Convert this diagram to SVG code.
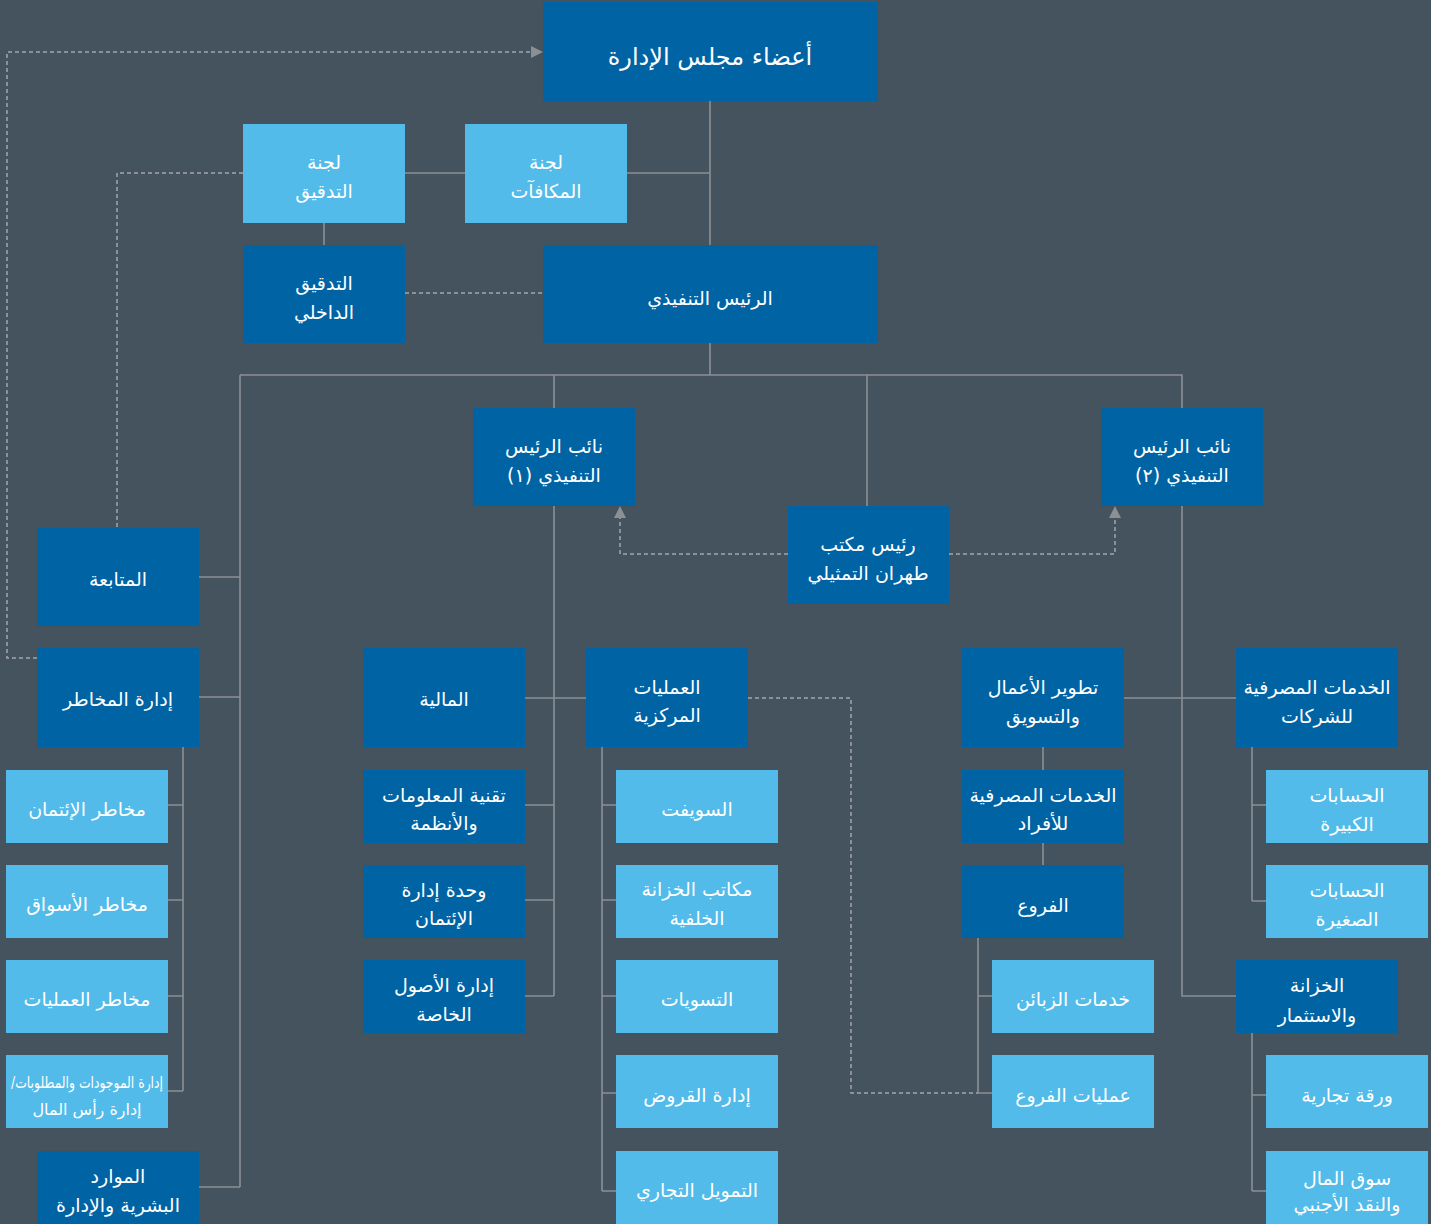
<svg xmlns="http://www.w3.org/2000/svg" width="1431" height="1224" viewBox="0 0 1431 1224">
<style>
.bg{fill:#44535e}
.d{fill:#0064a4}
.l{fill:#52bbea}
.t{fill:#ffffff;font-family:"DejaVu Sans",sans-serif;font-size:19px;text-anchor:middle;direction:rtl}
.big{font-size:24px}
.sm{font-size:16px}
.c{fill:none;stroke:#8b9095;stroke-width:1.6}
.ds{fill:none;stroke:#a3a7ab;stroke-width:1.5;stroke-dasharray:4 3}
</style>
<defs>
<marker id="ah" markerUnits="userSpaceOnUse" markerWidth="14" markerHeight="12" refX="0" refY="6" orient="auto">
<path d="M0,0 L12,6 L0,12 z" fill="#8b9095"/>
</marker>
</defs>
<rect class="bg" x="0" y="0" width="1431" height="1224"/>
<g id="connectors">
<path class="c" d="M710 101 V245"/>
<path class="c" d="M405 173 H465 M627 173 H710"/>
<path class="c" d="M324 223 V245"/>
<path class="c" d="M710 343 V375 M240 375 H1182 V408 M554 375 V408 M867 375 V506 M240 375 V1187"/>
<path class="c" d="M199 577 H240 M199 697 H240 M199 1187 H240"/>
<path class="c" d="M183 747 V1091 M168 805 H183 M168 900 H183 M168 996 H183 M168 1091 H183"/>
<path class="c" d="M554 506 V996 M525 698 H586 M525 805 H554 M525 900 H554 M525 996 H554"/>
<path class="c" d="M602 747 V1191 M602 805 H616 M602 900 H616 M602 996 H616 M602 1093 H616 M602 1191 H616"/>
<path class="c" d="M1182 506 V996 H1236 M1124 698 H1236"/>
<path class="c" d="M1043 747 V770 M1043 843 V865"/>
<path class="c" d="M978 938 V1093 M978 996 H992 M978 1093 H992"/>
<path class="c" d="M1252 747 V901 M1252 805 H1266 M1252 901 H1266"/>
<path class="c" d="M1252 1033 V1191 M1252 1095 H1266 M1252 1191 H1266"/>
<path class="ds" d="M37 658 H7 V52 H531" marker-end="url(#ah)"/>
<path class="ds" d="M243 173 H117 V528"/>
<path class="ds" d="M405 293 H543"/>
<path class="ds" d="M788 554 H620 V518" marker-end="url(#ah)"/>
<path class="ds" d="M949 554 H1115 V518" marker-end="url(#ah)"/>
<path class="ds" d="M748 698 H851 V1093 H978"/>
</g>
<g id="board"><rect class="d" x="543" y="2" width="335" height="99"/><text class="t big" x="710" y="65">أعضاء مجلس الإدارة</text></g>
<g id="audit-committee"><rect class="l" x="243" y="124" width="162" height="99"/><text class="t" x="324" y="169">لجنة</text><text class="t" x="324" y="198">التدقيق</text></g>
<g id="remuneration-committee"><rect class="l" x="465" y="124" width="162" height="99"/><text class="t" x="546" y="169">لجنة</text><text class="t" x="546" y="198">المكافآت</text></g>
<g id="internal-audit"><rect class="d" x="243" y="245" width="162" height="98"/><text class="t" x="324" y="290">التدقيق</text><text class="t" x="324" y="319">الداخلي</text></g>
<g id="ceo"><rect class="d" x="543" y="245" width="335" height="98"/><text class="t" x="710" y="305">الرئيس التنفيذي</text></g>
<g id="vp1"><rect class="d" x="473" y="408" width="162" height="98"/><text class="t" x="554" y="453">نائب الرئيس</text><text class="t" x="554" y="482">التنفيذي (١)</text></g>
<g id="vp2"><rect class="d" x="1101" y="408" width="162" height="98"/><text class="t" x="1182" y="453">نائب الرئيس</text><text class="t" x="1182" y="482">التنفيذي (٢)</text></g>
<g id="tehran"><rect class="d" x="788" y="506" width="161" height="98"/><text class="t" x="868" y="551">رئيس مكتب</text><text class="t" x="868" y="580">طهران التمثيلي</text></g>
<g id="followup"><rect class="d" x="37" y="528" width="162" height="98"/><text class="t" x="118" y="586">المتابعة</text></g>
<g id="risk-management"><rect class="d" x="37" y="648" width="162" height="99"/><text class="t" x="118" y="706">إدارة المخاطر</text></g>
<g id="credit-risk"><rect class="l" x="6" y="770" width="162" height="73"/><text class="t" x="87" y="816">مخاطر الإئتمان</text></g>
<g id="market-risk"><rect class="l" x="6" y="865" width="162" height="73"/><text class="t" x="87" y="911">مخاطر الأسواق</text></g>
<g id="operational-risk"><rect class="l" x="6" y="960" width="162" height="73"/><text class="t" x="87" y="1006">مخاطر العمليات</text></g>
<g id="alm"><rect class="l" x="6" y="1055" width="162" height="73"/><text class="t sm" x="87" y="1088" textLength="152" lengthAdjust="spacingAndGlyphs">إدارة الموجودات والمطلوبات/</text><text class="t sm" x="87" y="1115">إدارة رأس المال</text></g>
<g id="hr"><rect class="d" x="37" y="1151" width="162" height="73"/><text class="t" x="118" y="1183">الموارد</text><text class="t" x="118" y="1212">البشرية والإدارة</text></g>
<g id="finance"><rect class="d" x="363" y="648" width="162" height="99"/><text class="t" x="444" y="706">المالية</text></g>
<g id="it"><rect class="d" x="363" y="770" width="162" height="73"/><text class="t" x="444" y="802">تقنية المعلومات</text><text class="t" x="444" y="830">والأنظمة</text></g>
<g id="credit-unit"><rect class="d" x="363" y="865" width="162" height="73"/><text class="t" x="444" y="897">وحدة إدارة</text><text class="t" x="444" y="925">الإئتمان</text></g>
<g id="private-assets"><rect class="d" x="363" y="960" width="162" height="73"/><text class="t" x="444" y="992">إدارة الأصول</text><text class="t" x="444" y="1021">الخاصة</text></g>
<g id="central-operations"><rect class="d" x="586" y="648" width="162" height="99"/><text class="t" x="667" y="694">العمليات</text><text class="t" x="667" y="722">المركزية</text></g>
<g id="swift"><rect class="l" x="616" y="770" width="162" height="73"/><text class="t" x="697" y="816">السويفت</text></g>
<g id="treasury-back-office"><rect class="l" x="616" y="865" width="162" height="73"/><text class="t" x="697" y="896">مكاتب الخزانة</text><text class="t" x="697" y="925">الخلفية</text></g>
<g id="settlements"><rect class="l" x="616" y="960" width="162" height="73"/><text class="t" x="697" y="1006">التسويات</text></g>
<g id="loans"><rect class="l" x="616" y="1055" width="162" height="73"/><text class="t" x="697" y="1102">إدارة القروض</text></g>
<g id="trade-finance"><rect class="l" x="616" y="1151" width="162" height="73"/><text class="t" x="697" y="1197">التمويل التجاري</text></g>
<g id="business-development"><rect class="d" x="962" y="648" width="162" height="99"/><text class="t" x="1043" y="694">تطوير الأعمال</text><text class="t" x="1043" y="723">والتسويق</text></g>
<g id="retail-banking"><rect class="d" x="962" y="770" width="162" height="73"/><text class="t" x="1043" y="802">الخدمات المصرفية</text><text class="t" x="1043" y="830">للأفراد</text></g>
<g id="branches"><rect class="d" x="962" y="865" width="162" height="73"/><text class="t" x="1043" y="912">الفروع</text></g>
<g id="customer-services"><rect class="l" x="992" y="960" width="162" height="73"/><text class="t" x="1073" y="1006">خدمات الزبائن</text></g>
<g id="branch-operations"><rect class="l" x="992" y="1055" width="162" height="73"/><text class="t" x="1073" y="1102">عمليات الفروع</text></g>
<g id="corporate-banking"><rect class="d" x="1236" y="648" width="162" height="99"/><text class="t" x="1317" y="694">الخدمات المصرفية</text><text class="t" x="1317" y="723">للشركات</text></g>
<g id="large-accounts"><rect class="l" x="1266" y="770" width="162" height="73"/><text class="t" x="1347" y="802">الحسابات</text><text class="t" x="1347" y="831">الكبيرة</text></g>
<g id="small-accounts"><rect class="l" x="1266" y="865" width="162" height="73"/><text class="t" x="1347" y="897">الحسابات</text><text class="t" x="1347" y="926">الصغيرة</text></g>
<g id="treasury-investment"><rect class="d" x="1236" y="960" width="162" height="73"/><text class="t" x="1317" y="992">الخزانة</text><text class="t" x="1317" y="1022">والاستثمار</text></g>
<g id="commercial-paper"><rect class="l" x="1266" y="1055" width="162" height="73"/><text class="t" x="1347" y="1102">ورقة تجارية</text></g>
<g id="money-market-fx"><rect class="l" x="1266" y="1151" width="162" height="73"/><text class="t" x="1347" y="1185">سوق المال</text><text class="t" x="1347" y="1211">والنقد الأجنبي</text></g>
</svg>
